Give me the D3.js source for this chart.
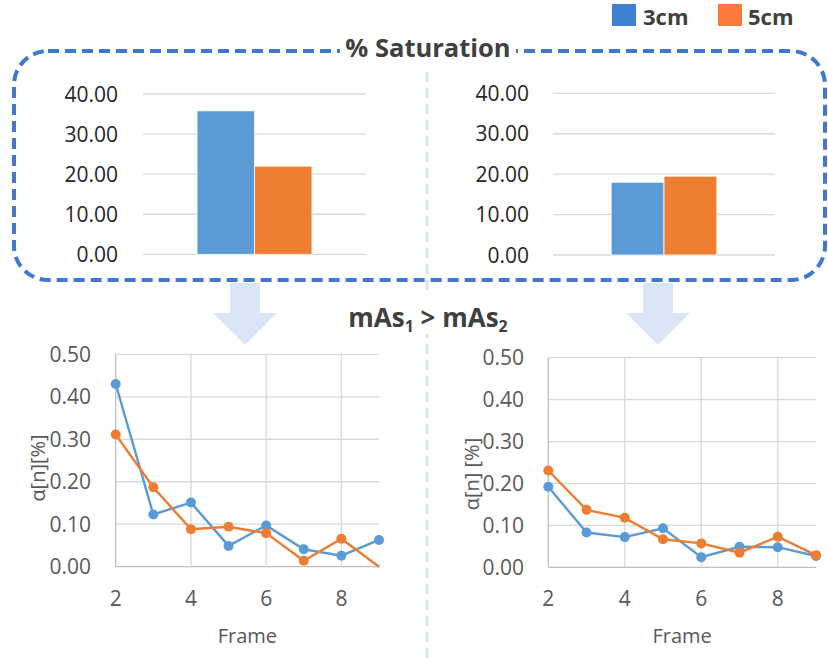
<!DOCTYPE html>
<html><head><meta charset="utf-8">
<script src="https://cdn.jsdelivr.net/npm/d3@7"></script>
<style>body{margin:0;background:#fff}svg{display:block;font-family:"Open Sans",sans-serif}</style>
</head><body><svg id="c" width="828" height="658"></svg>
<script>
// ---- data ----
const seriesNames = ["3cm", "5cm"];
const barLeftValues = [35.8, 22.0];
const barRightValues = [18.0, 19.5];
const barTicks = [0, 10, 20, 30, 40];
const frames = [2, 3, 4, 5, 6, 7, 8, 9];
const left3cm = [0.430, 0.123, 0.151, 0.049, 0.097, 0.041, 0.026, 0.063];
const left5cm = [0.311, 0.187, 0.088, 0.094, 0.079, 0.014, 0.066, 0.000];
const right3cm = [0.192, 0.083, 0.072, 0.093, 0.024, 0.049, 0.048, 0.027];
const right5cm = [0.231, 0.137, 0.118, 0.067, 0.057, 0.035, 0.073, 0.029];
const lineYTicks = [0, 0.1, 0.2, 0.3, 0.4, 0.5];
const lineXTicks = [2, 4, 6, 8];

const colors = {"3cm": "#5b9bd5", "5cm": "#ed7d31"};
const legendColors = {"3cm": "#4080d0", "5cm": "#fc7a3c"};

const svg = d3.select("#c");

// vertical divider
svg.append("line").attr("x1", 427).attr("x2", 427).attr("y1", 72).attr("y2", 658)
  .attr("stroke", "#d8e5f5").attr("stroke-width", 3).attr("stroke-dasharray", "10,6");

// arrows
function arrow(cx) {
  const p = [[cx-15,283],[cx+15,283],[cx+15,313],[cx+32,313],[cx,345],[cx-32,313],[cx-15,313]];
  svg.append("path").attr("d", d3.line()(p) + "Z").attr("fill", "#dae6f5");
}
arrow(245); arrow(658);

// dashed rounded box
svg.append("rect").attr("x", 14).attr("y", 51).attr("width", 811).attr("height", 229)
  .attr("rx", 34).attr("ry", 34).attr("fill", "none")
  .attr("stroke", "#3f78cc").attr("stroke-width", 4).attr("stroke-dasharray", "11,6");

// title with white background
svg.append("rect").attr("x", 340).attr("y", 36).attr("width", 176).attr("height", 26).attr("fill", "#fff");
svg.append("text").attr("x", 428).attr("y", 57).attr("text-anchor", "middle")
  .attr("font-size", 25.5).attr("font-weight", "bold").attr("fill", "#404040").text("% Saturation");

// legend
const leg = [{n:"3cm", x:612, tx:643}, {n:"5cm", x:718, tx:748}];
leg.forEach(d => {
  svg.append("rect").attr("x", d.x).attr("y", 4).attr("width", 24).attr("height", 22).attr("fill", legendColors[d.n]);
  svg.append("text").attr("x", d.tx).attr("y", 25).attr("font-size", 22).attr("font-weight", "bold")
    .attr("fill", "#404040").text(d.n);
});

// bar charts
function barChart(values, x0, x1, yTop, yBot, padOuter, labelX) {
  const y = d3.scaleLinear().domain([0, 40]).range([yBot, yTop]);
  const x = d3.scaleBand().domain(seriesNames).range([x0, x1]).paddingInner(0).paddingOuter(padOuter);
  const g = svg.append("g");
  g.selectAll("line.grid").data(barTicks).join("line")
    .attr("x1", x0).attr("x2", x1).attr("y1", d => y(d)).attr("y2", d => y(d))
    .attr("stroke", "#d9d9d9").attr("stroke-width", 1.3);
  g.selectAll("text.tick").data(barTicks).join("text")
    .attr("x", labelX).attr("y", d => y(d)).attr("dy", "0.36em").attr("text-anchor", "end")
    .attr("font-size", 21).attr("fill", "#262626").text(d => d3.format(".2f")(d));
  g.selectAll("rect.bar").data(seriesNames).join("rect")
    .attr("x", d => x(d)).attr("width", x.bandwidth())
    .attr("y", (d, i) => y(values[i])).attr("height", (d, i) => y(0) - y(values[i]))
    .attr("fill", d => colors[d]).attr("stroke", "#fff").attr("stroke-width", 0.8);
}
barChart(barLeftValues, 143, 366, 94, 254.3, 0.94, 118);
barChart(barRightValues, 553, 775, 93.3, 255, 1.1, 529);

// mAs text
svg.append("rect").attr("x", 338).attr("y", 292).attr("width", 180).attr("height", 42).attr("fill", "#fff");
const mt = svg.append("text").attr("x", 428).attr("y", 327).attr("text-anchor", "middle")
  .attr("font-size", 26).attr("font-weight", "bold").attr("fill", "#404040");
mt.append("tspan").text("mAs");
mt.append("tspan").attr("font-size", 16).attr("dy", 5).text("1");
mt.append("tspan").attr("dy", -5).text(" > mAs");
mt.append("tspan").attr("font-size", 16).attr("dy", 5).text("2");

// line charts
function lineChart(s3, s5, x0, x1, yTop, yBot, labelX, yTitle, yTitleX, yTitleY) {
  const x = d3.scaleLinear().domain([2, 9]).range([x0, x1]);
  const y = d3.scaleLinear().domain([0, 0.5]).range([yBot, yTop]);
  const g = svg.append("g");
  g.selectAll("line.h").data(lineYTicks).join("line")
    .attr("x1", x0).attr("x2", x1).attr("y1", d => y(d)).attr("y2", d => y(d))
    .attr("stroke", d => d === 0 ? "#bfbfbf" : "#d9d9d9").attr("stroke-width", 1.3);
  g.selectAll("line.v").data(lineXTicks).join("line")
    .attr("x1", d => x(d)).attr("x2", d => x(d)).attr("y1", yTop).attr("y2", yBot)
    .attr("stroke", d => d === 2 ? "#bfbfbf" : "#d9d9d9").attr("stroke-width", 1.3);
  g.selectAll("text.yt").data(lineYTicks).join("text")
    .attr("x", labelX).attr("y", d => y(d)).attr("dy", "0.36em").attr("text-anchor", "end")
    .attr("font-size", 21).attr("fill", "#595959").text(d => d3.format(".2f")(d));
  g.selectAll("text.xt").data(lineXTicks).join("text")
    .attr("x", d => x(d)).attr("y", yBot + 39).attr("text-anchor", "middle")
    .attr("font-size", 21).attr("fill", "#595959").text(d => d);
  g.append("text").attr("x", (x0 + x1) / 2).attr("y", 643).attr("text-anchor", "middle")
    .attr("font-size", 20).attr("fill", "#595959").text("Frame");
  g.append("text").attr("transform", `translate(${yTitleX},${yTitleY}) rotate(-90)`)
    .attr("text-anchor", "middle").attr("dy", "0.35em")
    .attr("font-size", 20).attr("fill", "#595959").text(yTitle);
  [["3cm", s3], ["5cm", s5]].forEach(([n, vals]) => {
    const pts = frames.map((f, i) => [f, vals[i]]);
    g.append("path").datum(pts)
      .attr("d", d3.line().x(d => x(d[0])).y(d => y(d[1])))
      .attr("fill", "none").attr("stroke", colors[n]).attr("stroke-width", 2.4);
    g.selectAll(null).data(pts.filter(d => d[1] > 0)).join("circle")
      .attr("cx", d => x(d[0])).attr("cy", d => y(d[1])).attr("r", 5)
      .attr("fill", colors[n]);
  });
}
lineChart(left3cm, left5cm, 115.7, 379, 354.3, 566.7, 91, "α[n][%]", 38, 468);
lineChart(right3cm, right5cm, 548.3, 816, 357.7, 567.3, 524, "α[n] [%]", 472, 474);
</script></body></html>
